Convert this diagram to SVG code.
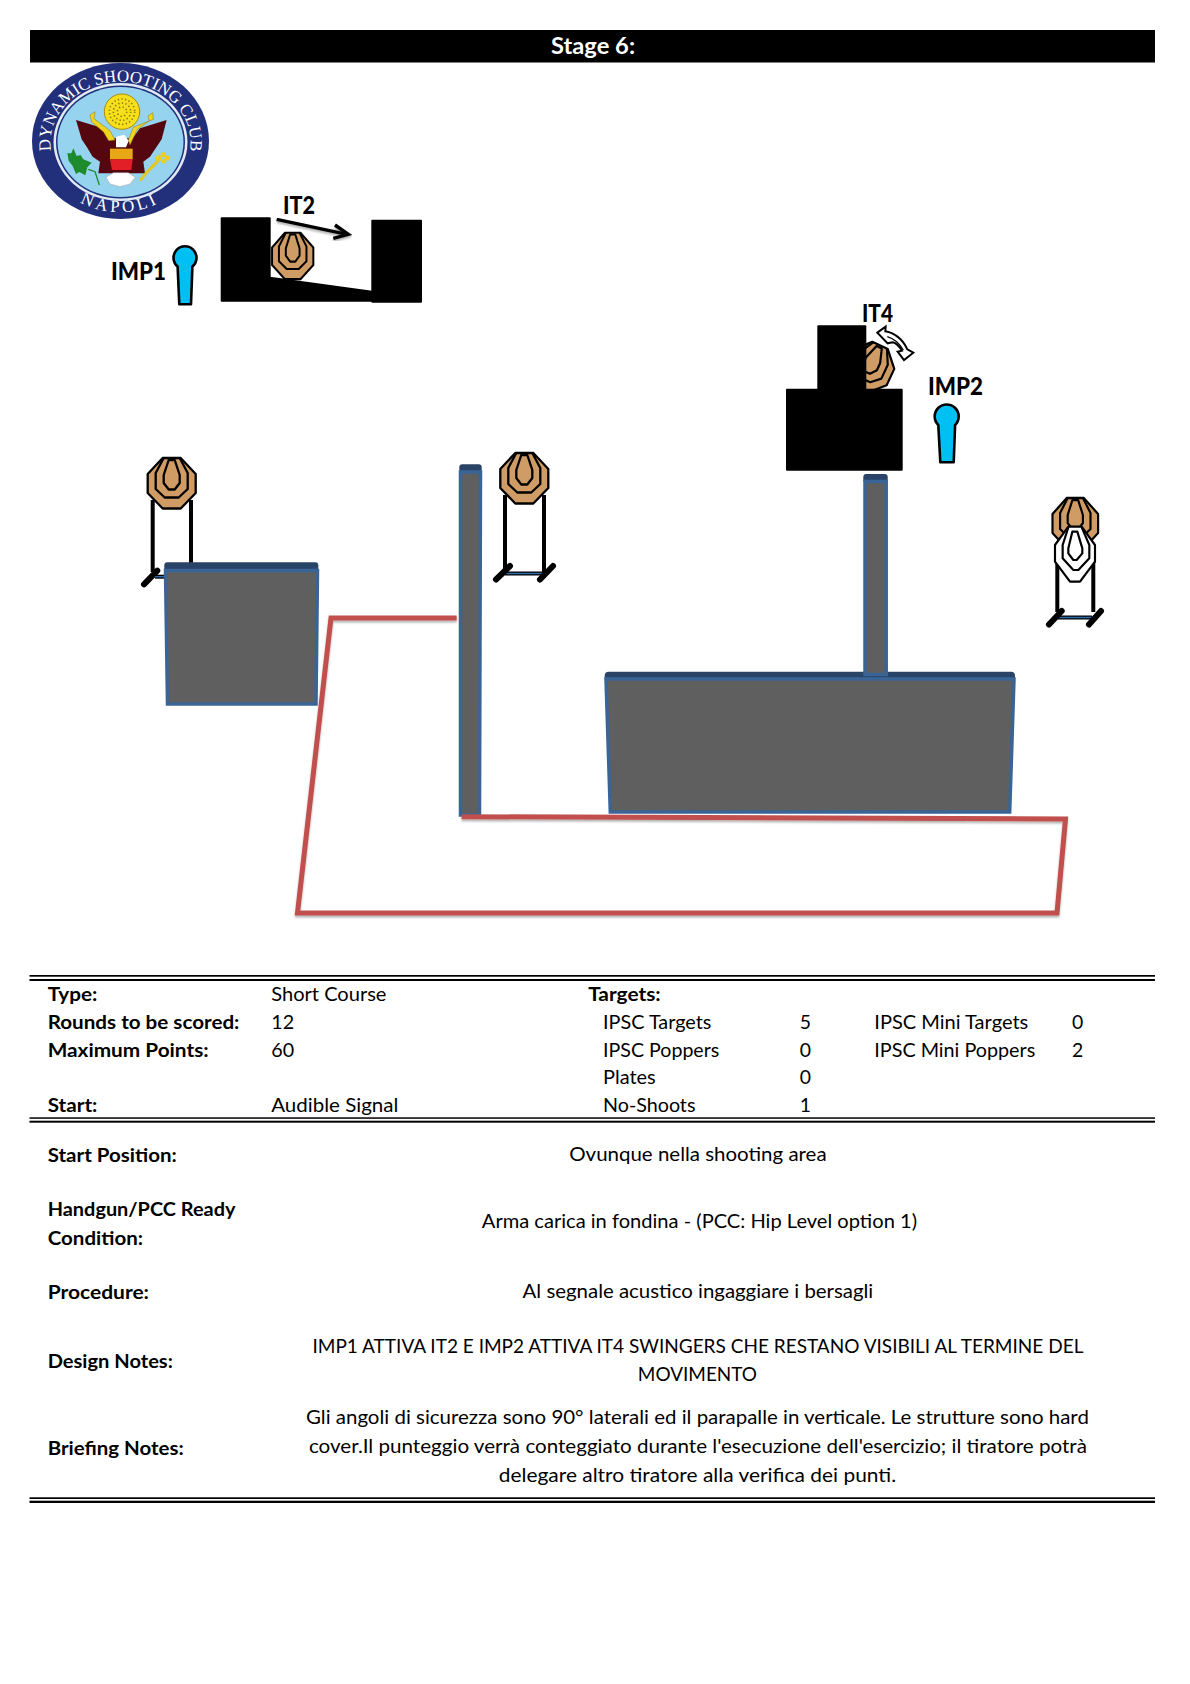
<svg xmlns="http://www.w3.org/2000/svg" width="1190" height="1684" viewBox="0 0 1190 1684">
<style>
text{font-family:"Lato","Carlito","Liberation Sans",sans-serif;fill:#000}
.t{font-size:19.5px}
.b{font-size:19.5px;font-weight:700}
.l{font-size:24px;font-weight:900}
.tgt{fill:#cf9c65;stroke:#000;stroke-width:2.3;stroke-linejoin:round}
.ring{fill:none;stroke:#000;stroke-width:2.3;stroke-linejoin:round}
.wall{fill:#5f5f5f;stroke:#3a6496;stroke-width:3.5}
.cap{fill:#2a4468}
.blk{fill:#000}
.pin{fill:#00bff3;stroke:#000;stroke-width:2.6;stroke-linejoin:round}
.leg{stroke:#000;stroke-width:4;fill:none}
.foot{stroke:#000;stroke-width:6;fill:none;stroke-linecap:round}
.base{stroke:#000;stroke-width:4;fill:none}
.baseb{stroke:#2f6aa8;stroke-width:1.4;fill:none}
.fault{fill:none;stroke:#c0504d;stroke-width:5;stroke-linejoin:miter;filter:url(#sh)}
.rule{fill:#000}
.seal{font-family:"Liberation Serif",serif;fill:#fff}
</style>
<defs>
<filter id="sh" x="-5%" y="-5%" width="110%" height="115%"><feDropShadow dx="0" dy="2" stdDeviation="1.3" flood-color="#000" flood-opacity=".3"/></filter>
<g id="target">
<polygon class="tgt" points="-9,-25 9,-25 24,-9 24,10 9,25.5 -9,25.5 -24,10 -24,-9"/>
<polyline class="ring" points="-8,-25 -16,-10 -16,6 -7,14.5 7,14.5 16,6 16,-10 8,-25"/>
<polygon class="ring" points="-3,-23 3,-23 8,-8 8,0 3,6.5 -3,6.5 -8,0 -8,-8"/>
</g>
<path id="sealTop" d="M51,150 A70,61 0 1 1 190,150"/>
<path id="sealBot" d="M52,176 A78,71 0 0 0 188,176"/>
</defs>
<rect width="1190" height="1684" fill="#fff"/>

<g id="header">
<rect x="30" y="30" width="1125" height="32.500" fill="#000"/>
<text x="551" y="54" font-size="23" font-weight="700" style="fill:#fff" textLength="84" lengthAdjust="spacingAndGlyphs">Stage 6:</text>
</g>

<g id="logo">
<ellipse cx="120.500" cy="141" rx="88.500" ry="78" fill="#222f7a"/>
<ellipse cx="120.500" cy="142" rx="67" ry="59" fill="#dfeaf5"/>
<ellipse cx="120.500" cy="142" rx="64.500" ry="56.500" fill="#222f7a"/>
<ellipse cx="120.500" cy="142" rx="63" ry="55" fill="#96d3ee"/>
<text class="seal" font-size="17" text-anchor="middle"><textPath href="#sealTop" startOffset="50%">DYNAMIC SHOOTING CLUB</textPath></text>
<text class="seal" font-size="17" text-anchor="middle" letter-spacing="3.500"><textPath href="#sealBot" startOffset="50%">NAPOLI</textPath></text>
<g transform="translate(60,90) scale(.3333)">
<circle cx="186" cy="65" r="53" fill="#f7e01a" stroke="#a88a10" stroke-width="3"/>
<g fill="none" stroke="#8d7a10" stroke-width="5" stroke-dasharray="4 7">
<circle cx="186" cy="65" r="38"/><circle cx="186" cy="65" r="26"/><circle cx="186" cy="65" r="14"/>
</g>
<polygon fill="#55070f" points="48,90 130,115 152,145 218,145 240,115 320,90 305,148 290,170 270,200 250,215 255,250 115,250 120,215 98,200 80,170 65,148"/>
<polygon fill="#f0d41e" stroke="#8a7a10" stroke-width="1.500" points="90,75 105,65 102,86 150,122 165,150 146,152 130,125 95,96"/>
<polygon fill="#f0d41e" stroke="#8a7a10" stroke-width="1.500" points="278,68 264,78 268,92 232,118 210,165 205,150 220,112 280,88"/>
<polygon fill="#fff" points="168,140 193,134 206,152 198,172 168,172"/>
<polygon fill="#e8a714" points="150,176 218,176 218,208 150,208"/>
<polygon fill="#e21f26" points="150,208 218,208 214,240 156,240"/>
<polygon fill="#fff" stroke="#999" stroke-width="1.500" points="138,262 160,248 205,248 226,262 210,282 180,290 150,282"/>
<polygon fill="#1e8a2e" points="22,190 34,190 40,175 50,198 62,195 70,208 95,218 82,232 76,256 58,246 48,252 38,228 26,212"/>
<polyline points="85,238 105,245 118,285" fill="none" stroke="#1e8a2e" stroke-width="4"/>
<polyline points="240,272 262,245 295,212" fill="none" stroke="#e0c820" stroke-width="9"/>
<g fill="#e8d020"><circle cx="296" cy="205" r="9"/><circle cx="310" cy="194" r="8"/><circle cx="322" cy="204" r="8"/><circle cx="312" cy="214" r="7"/></g>
</g>
</g>

<g id="IT2">
<rect class="blk" x="220.700" y="217.300" width="50" height="84.400" rx="1"/>
<rect class="blk" x="371.300" y="219.700" width="50.700" height="83" rx="1"/>
<polygon class="blk" points="270,276.700 372,290.700 372,301.700 270,301.700"/>
<use href="#target" transform="translate(292.700,255.700) scale(.86,.92)"/>
<text class="l" x="283" y="213.700" textLength="32" lengthAdjust="spacingAndGlyphs">IT2</text>
</g>
<g id="IMP1">
<text class="l" x="111" y="279.700" textLength="55" lengthAdjust="spacingAndGlyphs">IMP1</text>
<path class="pin" d="M177.600,266.500 A11.500,11.500 0 1 1 192.400,266.500 L191,304.300 L179.300,304.300 Z"/>
</g>

<g id="IT4">
<use href="#target" transform="translate(870,367) rotate(25) scale(.95)"/>
<rect class="blk" x="817.300" y="325.300" width="49" height="66" rx="1"/>
<rect class="blk" x="786" y="388.700" width="116.700" height="82" rx="1"/>
<text class="l" x="862" y="321.700" textLength="31" lengthAdjust="spacingAndGlyphs">IT4</text>
<g transform="translate(850,310) scale(.3333)">
<path d="M82,68 L107,50 L106,64 Q150,72 172,118 L190,128 L162,150 L143,125 L156,122 Q142,100 128,97 L113,100 Z" fill="#fff" stroke="#000" stroke-width="6" stroke-linejoin="miter"/>
<path d="M112,80 Q140,88 160,120" fill="none" stroke="#000" stroke-width="4"/>
</g>
</g>
<g id="IMP2">
<text class="l" x="928" y="395" textLength="55" lengthAdjust="spacingAndGlyphs">IMP2</text>
<path class="pin" d="M938.300,425 A12,12 0 1 1 955.100,425 L953.700,462.300 L940.300,462.300 Z"/>
</g>

<g id="target1">
<line class="leg" x1="152.700" y1="500" x2="152.700" y2="572"/>
<line class="leg" x1="191" y1="500" x2="191" y2="565"/>
<line class="foot" x1="144" y1="584.300" x2="157.300" y2="570.700"/>
<line class="base" x1="155" y1="576.700" x2="168" y2="576.700"/>
<line class="baseb" x1="155" y1="576.700" x2="168" y2="576.700"/>
<use href="#target" transform="translate(171.700,483)"/>
</g>
<g id="target2">
<line class="leg" x1="505" y1="495" x2="505" y2="572"/>
<line class="leg" x1="544" y1="495" x2="544" y2="572"/>
<line class="base" x1="505" y1="573.500" x2="545" y2="573.500"/>
<line class="baseb" x1="505" y1="573.500" x2="545" y2="573.500"/>
<line class="foot" x1="496" y1="579.500" x2="510" y2="566"/>
<line class="foot" x1="540" y1="579.500" x2="553" y2="566"/>
<use href="#target" transform="translate(524.300,478)"/>
</g>
<g id="target3">
<line class="leg" x1="1057.300" y1="560" x2="1057.300" y2="612"/>
<line class="leg" x1="1093.300" y1="560" x2="1093.300" y2="612"/>
<line class="base" x1="1058" y1="617.500" x2="1092" y2="617.500"/>
<line class="baseb" x1="1058" y1="617.500" x2="1092" y2="617.500"/>
<line class="foot" x1="1049" y1="624.500" x2="1061.700" y2="611"/>
<line class="foot" x1="1089" y1="624.500" x2="1101" y2="611"/>
<use href="#target" transform="translate(1075.300,523) scale(.95,1)"/>
<g transform="translate(1040,490) scale(.3333)" fill="#fff" stroke="#000" stroke-width="6.500" stroke-linejoin="round">
<polygon points="85,110 125,110 165,165 165,215 120,275 90,275 45,215 45,165"/>
<polyline fill="none" points="85,112 68,165 68,205 100,240 115,240 148,205 148,165 125,112"/>
<polygon fill="none" points="97,125 112,125 127,175 127,190 110,210 100,210 85,190 85,175"/>
</g>
</g>

<g id="wall1">
<rect class="cap" x="164.300" y="562.300" width="154" height="10" rx="3"/>
<polygon class="wall" points="165.500,570.500 317.500,570.500 316,704 167.500,704"/>
</g>
<g id="wall2">
<rect class="cap" x="459.300" y="464.300" width="22.400" height="10" rx="3"/>
<polygon class="wall" points="460.500,472 480.500,472 479.500,815 460.500,815"/>
</g>
<g id="wall4">
<rect class="cap" x="604.700" y="671.700" width="410.300" height="10" rx="4"/>
<polygon class="wall" points="606,679 1014,679 1009.700,812 610.300,812"/>
</g>
<g id="wall3">
<rect class="cap" x="863.300" y="474" width="24.400" height="9" rx="3"/>
<polygon class="wall" points="865,481.500 886.200,481.500 886.200,674.500 865,674.500"/>
</g>

<g id="connectors">
<polyline class="fault" points="456.700,618 331,618 297.500,913 1057,913 1065.500,819 461.600,816.700"/>
<g filter="url(#sh)">
<line x1="276.700" y1="219.300" x2="347" y2="234.300" stroke="#000" stroke-width="3.400"/>
<polyline points="335,225 348.300,234.300 333.300,238.300" fill="none" stroke="#000" stroke-width="3.400"/>
</g>
</g>

<g id="rules">
<rect class="rule" x="29.500" y="975" width="1125.500" height="1.700"/>
<rect class="rule" x="29.500" y="979" width="1125.500" height="2"/>
<rect class="rule" x="29.500" y="1117.300" width="1125.500" height="1.500"/>
<rect class="rule" x="29.500" y="1120.700" width="1125.500" height="2"/>
<rect class="rule" x="29.500" y="1497.300" width="1125.500" height="1.700"/>
<rect class="rule" x="29.500" y="1500.700" width="1125.500" height="2.300"/>
</g>

<g id="summary" transform="scale(.9935,1)">
<text class="b" x="48" y="1001" textLength="50" lengthAdjust="spacingAndGlyphs">Type:</text>
<text class="t" x="273" y="1001" textLength="116" lengthAdjust="spacingAndGlyphs">Short Course</text>
<text class="b" x="592" y="1001" textLength="73" lengthAdjust="spacingAndGlyphs">Targets:</text>
<text class="b" x="48" y="1029" textLength="193" lengthAdjust="spacingAndGlyphs">Rounds to be scored:</text>
<text class="t" x="273" y="1029" textLength="23" lengthAdjust="spacingAndGlyphs">12</text>
<text class="t" x="607" y="1029" textLength="109" lengthAdjust="spacingAndGlyphs">IPSC Targets</text>
<text class="t" x="805" y="1029">5</text>
<text class="t" x="880" y="1029" textLength="155" lengthAdjust="spacingAndGlyphs">IPSC Mini Targets</text>
<text class="t" x="1079" y="1029">0</text>
<text class="b" x="48" y="1057" textLength="162" lengthAdjust="spacingAndGlyphs">Maximum Points:</text>
<text class="t" x="273" y="1057" textLength="23" lengthAdjust="spacingAndGlyphs">60</text>
<text class="t" x="607" y="1057" textLength="117" lengthAdjust="spacingAndGlyphs">IPSC Poppers</text>
<text class="t" x="805" y="1057">0</text>
<text class="t" x="880" y="1057" textLength="162" lengthAdjust="spacingAndGlyphs">IPSC Mini Poppers</text>
<text class="t" x="1079" y="1057">2</text>
<text class="t" x="607" y="1084" textLength="53" lengthAdjust="spacingAndGlyphs">Plates</text>
<text class="t" x="805" y="1084">0</text>
<text class="b" x="48" y="1112" textLength="50" lengthAdjust="spacingAndGlyphs">Start:</text>
<text class="t" x="273" y="1112" textLength="128" lengthAdjust="spacingAndGlyphs">Audible Signal</text>
<text class="t" x="607" y="1112" textLength="93" lengthAdjust="spacingAndGlyphs">No-Shoots</text>
<text class="t" x="805" y="1112">1</text>
</g>

<g id="details" transform="scale(.9935,1)">
<text class="b" x="48" y="1162" textLength="130" lengthAdjust="spacingAndGlyphs">Start Position:</text>
<text class="t" x="573" y="1161" textLength="259" lengthAdjust="spacingAndGlyphs">Ovunque nella shooting area</text>
<text class="b" x="48" y="1216" textLength="189" lengthAdjust="spacingAndGlyphs">Handgun/PCC Ready</text>
<text class="b" x="48" y="1245" textLength="96" lengthAdjust="spacingAndGlyphs">Condition:</text>
<text class="t" x="485" y="1228.500" textLength="438" lengthAdjust="spacingAndGlyphs">Arma carica in fondina - (PCC: Hip Level option 1)</text>
<text class="b" x="48" y="1299" textLength="102" lengthAdjust="spacingAndGlyphs">Procedure:</text>
<text class="t" x="526" y="1298" textLength="353" lengthAdjust="spacingAndGlyphs">Al segnale acustico ingaggiare i bersagli</text>
<text class="b" x="48" y="1368" textLength="126" lengthAdjust="spacingAndGlyphs">Design Notes:</text>
<text class="t" x="314.500" y="1353" textLength="776" lengthAdjust="spacingAndGlyphs">IMP1 ATTIVA IT2 E IMP2 ATTIVA IT4 SWINGERS CHE RESTANO VISIBILI AL TERMINE DEL</text>
<text class="t" x="642" y="1381" textLength="120" lengthAdjust="spacingAndGlyphs">MOVIMENTO</text>
<text class="b" x="48" y="1455" textLength="137" lengthAdjust="spacingAndGlyphs">Briefing Notes:</text>
<text class="t" x="308" y="1424" textLength="788" lengthAdjust="spacingAndGlyphs">Gli angoli di sicurezza sono 90° laterali ed il parapalle in verticale. Le strutture sono hard</text>
<text class="t" x="311" y="1453" textLength="783" lengthAdjust="spacingAndGlyphs">cover.Il punteggio verrà conteggiato durante l'esecuzione dell'esercizio; il tiratore potrà</text>
<text class="t" x="502" y="1482" textLength="400" lengthAdjust="spacingAndGlyphs">delegare altro tiratore alla verifica  dei punti.</text>
</g>
</svg>
